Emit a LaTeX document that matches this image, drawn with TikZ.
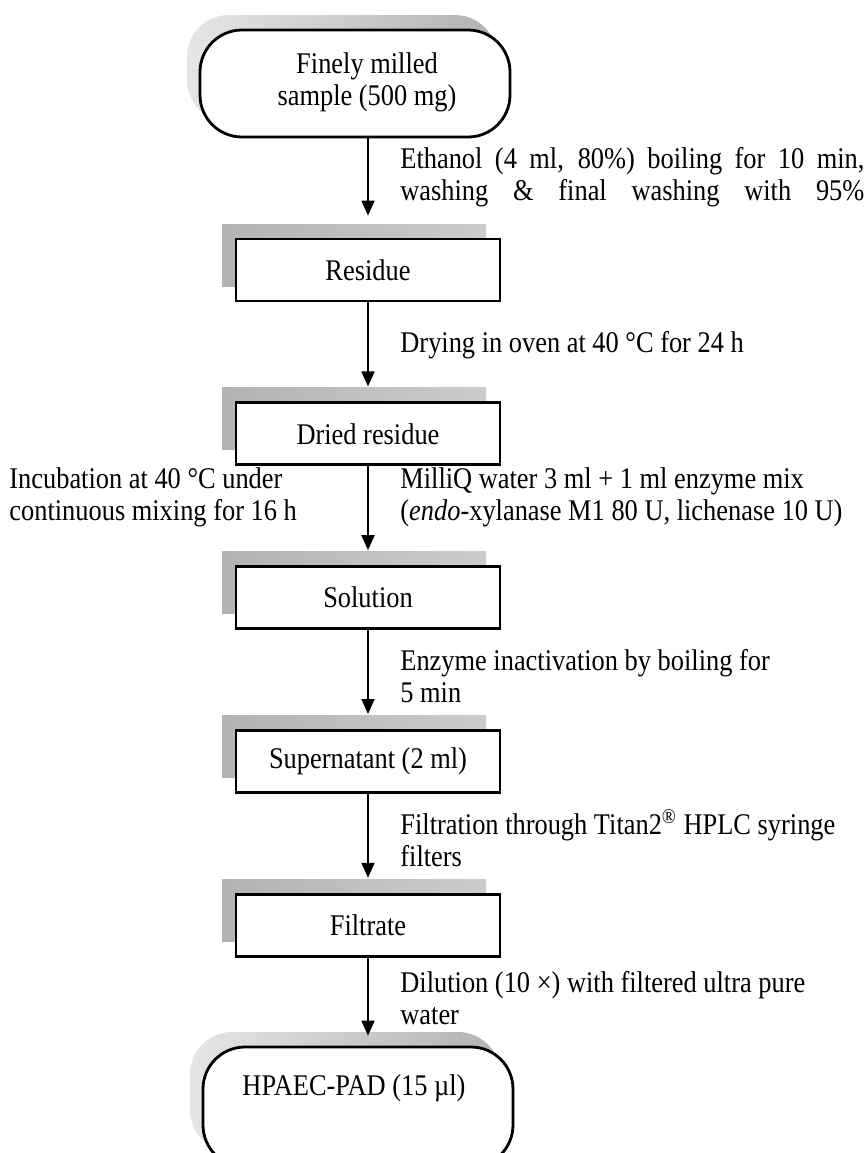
\documentclass[tikz,border=0pt]{standalone}
\usepackage{fontspec}
\setmainfont{Liberation Serif}[FakeStretch=0.88]
\usetikzlibrary{positioning, arrows.meta, shadows}
\newcommand\flowfont{\fontsize{15pt}{16pt}\selectfont}

\begin{document}
\begin{tikzpicture}[
        x=0.5pt, y=-0.5pt,
        node distance = 49.5pt,
        term/.style    = {draw, line width=1.4pt, rectangle, rounded corners=21pt, minimum width=155pt, fill=white,
                          general shadow={shadow xshift=-6.5pt, shadow yshift=7.5pt, left color=gray!20, right color=gray!60}},
        termtxt/.style = {align=center, font=\flowfont, inner sep=0pt},
        stepbox/.style = {draw, line width=1.4pt, rectangle, minimum width=132pt, minimum height=31pt, fill=white, font=\flowfont,
                          general shadow={shadow xshift=-7pt, shadow yshift=7.5pt, left color=gray!60, right color=gray!40}},
        lbl/.style     = {anchor=west, align=left, font=\flowfont, inner sep=0pt},
        arrow/.style   = {-{Triangle[length=7.5pt, width=6.5pt]}, line width=0.9pt, shorten >=7.5pt},
    ]
        \useasboundingbox (0,0) rectangle (868,1153);

        %---- start and end ----
        \node[term, minimum height=53.5pt] (sample) at (355,83.5) {};
        \node[termtxt] (sampletxt) at (367,82) {Finely milled\\sample (500 mg)};
        \node[term, minimum height=60pt] (hpaec) at (358,1107) {};
        \node[termtxt] (hpaectxt) at (354,1088) {HPAEC-PAD (15 µl)};

        %---- steps ----
        \node[stepbox] (res) at (368,270) {Residue};
        \node[stepbox, below=of res] (dried) {Dried residue};
        \node[stepbox, below=of dried] (sol) {Solution};
        \node[stepbox, below=of sol] (super) {Supernatant (2 ml)};
        \node[stepbox, below=of super] (filt) {Filtrate};

        %---- arrows ----
        \draw[arrow, shorten >=11pt] (sample.south -| res.north) -- (res.north);
        \draw[arrow] (res) -- (dried);
        \draw[arrow] (dried) -- (sol);
        \draw[arrow] (sol) -- (super);
        \draw[arrow] (super) -- (filt);
        \draw[arrow, shorten >=5pt] (filt.south) -- (filt.south |- hpaec.north);

        %---- treatments ----
        \node[lbl, text width=232pt, align=justify] (ethanol) at (400,177)
            {Ethanol (4 ml, 80\%) boiling for 10 min,\linebreak
             washing\hfill\&\hfill final\hfill washing\hfill with\hfill 95\%};
        \node[lbl] (drying) at (400,345) {Drying in oven at 40 °C for 24 h};
        \node[lbl] (milliq) at (400,497) {MilliQ water 3 ml + 1 ml enzyme mix\\(\textit{endo}-xylanase M1 80 U, lichenase 10 U)};
        \node[lbl] (incub) at (9,497) {Incubation at 40 °C under\\continuous mixing for 16 h};
        \node[lbl] (inact) at (400,676) {Enzyme inactivation by boiling for\\5 min};
        \node[lbl] (filtr) at (400,838) {Filtration through Titan2\textsuperscript{®} HPLC syringe\\filters};
        \node[lbl] (dilut) at (400,998) {Dilution (10 ×) with filtered ultra pure\\water};
    \end{tikzpicture}
\end{document}
